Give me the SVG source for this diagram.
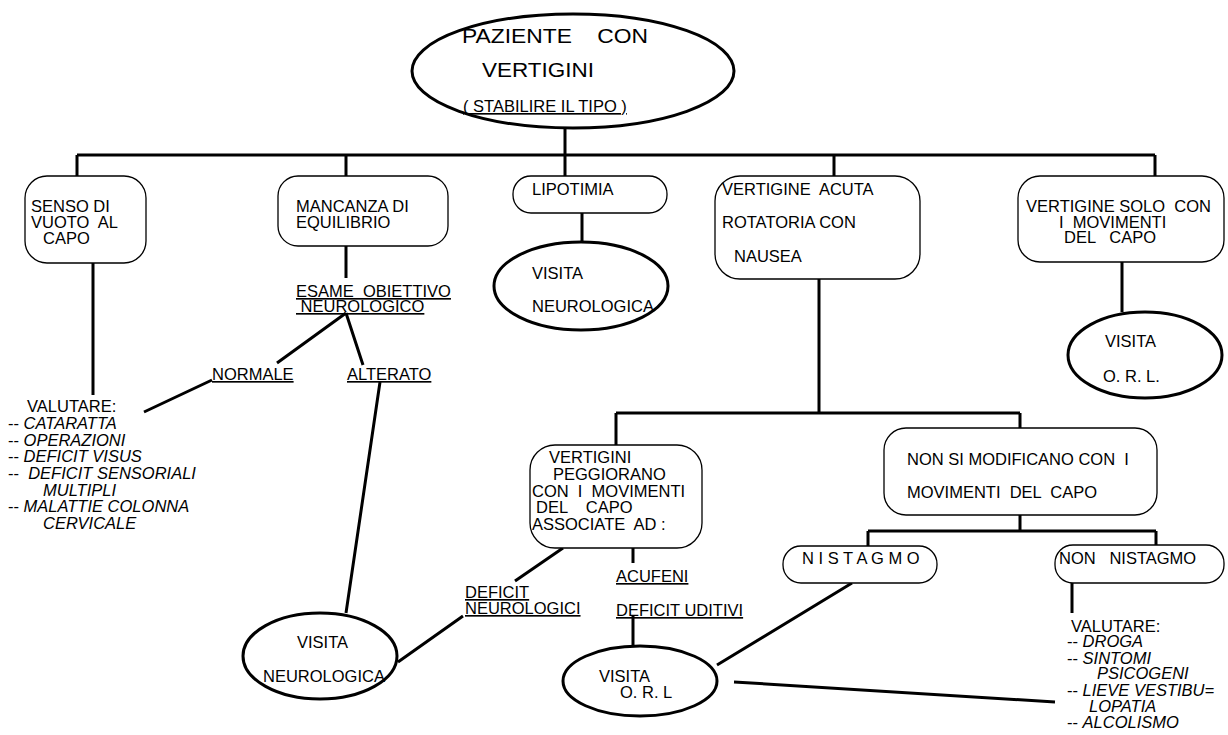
<svg xmlns="http://www.w3.org/2000/svg" width="1228" height="735" viewBox="0 0 1228 735" xml:space="preserve">
<style>
text{font-family:"Liberation Sans",Arial,sans-serif;font-size:16.5px;fill:#000;white-space:pre}
.u{text-decoration:underline}
.i{font-style:italic}
.t{font-size:21px}
.box{fill:#fff;stroke:#000;stroke-width:1.3}
.ell{fill:#fff;stroke:#000;stroke-width:3}
.c{fill:none;stroke:#000;stroke-width:3}
</style>
<rect width="1228" height="735" fill="#fff"/>
<g id="connectors" class="c">
<path d="M565 128V155M77 155H1155M77 155V176M346 155V176M565 155V176M834 155V176M1155 155V176"/>
<path d="M93 263V395M346 246V278M346 313L277 363M346 313L363 365M212 380L144 412M380 382L346 613"/>
<path d="M582 213V242M1122 262V312"/>
<path d="M819 279V413M616 413H1020M616 413V445M1020 413V428"/>
<path d="M633 548V563M563 548L515 581M463 616L398 662M633 616V646"/>
<path d="M1020 515V531M868 531H1156M868 531V546M1156 531V545"/>
<path d="M852 583L717 665M1072 583V613M734 682L1055 702"/>
</g>
<g id="n-paziente">
<ellipse class="ell" cx="573" cy="71" rx="161" ry="57"/>
<text class="t" x="462" y="43" textLength="186" lengthAdjust="spacingAndGlyphs">PAZIENTE    CON</text>
<text class="t" x="482" y="77" textLength="112" lengthAdjust="spacingAndGlyphs">VERTIGINI</text>
<text class="u" x="463" y="112">( STABILIRE IL TIPO )</text>
</g>
<g id="n-senso">
<rect class="box" x="25" y="176" width="121" height="87" rx="22"/>
<text x="31" y="212">SENSO DI</text>
<text x="31" y="228">VUOTO  AL</text>
<text x="43" y="244">CAPO</text>
</g>
<g id="n-mancanza">
<rect class="box" x="278" y="176" width="170" height="70" rx="20"/>
<text x="296" y="212">MANCANZA DI</text>
<text x="296" y="228">EQUILIBRIO</text>
</g>
<g id="n-esame">
<text class="u" x="296" y="297">ESAME  OBIETTIVO</text>
<text class="u" x="296" y="312"> NEUROLOGICO</text>
</g>
<g id="n-normale"><text class="u" x="212" y="380">NORMALE</text></g>
<g id="n-alterato"><text class="u" x="347" y="380">ALTERATO</text></g>
<g id="n-valutare1">
<text x="27" y="412">VALUTARE:</text>
<text x="8" y="429">-- <tspan class="i">CATARATTA</tspan></text>
<text x="8" y="446">-- <tspan class="i">OPERAZIONI</tspan></text>
<text x="8" y="462">-- <tspan class="i">DEFICIT VISUS</tspan></text>
<text x="8" y="479">--  <tspan class="i">DEFICIT SENSORIALI</tspan></text>
<text class="i" x="43" y="496">MULTIPLI</text>
<text x="8" y="512">-- <tspan class="i">MALATTIE COLONNA</tspan></text>
<text class="i" x="43" y="529">CERVICALE</text>
</g>
<g id="n-lipotimia">
<rect class="box" x="513" y="176" width="154" height="37" rx="18"/>
<text x="532" y="195">LIPOTIMIA</text>
</g>
<g id="n-visita-neuro1">
<ellipse class="ell" cx="581" cy="286" rx="87" ry="44"/>
<text x="532" y="279">VISITA</text>
<text x="532" y="312">NEUROLOGICA</text>
</g>
<g id="n-vertigine-acuta">
<rect class="box" x="715" y="176" width="205" height="103" rx="25"/>
<text x="722" y="195">VERTIGINE  ACUTA</text>
<text x="722" y="228">ROTATORIA CON</text>
<text x="734" y="262">NAUSEA</text>
</g>
<g id="n-vertigine-solo">
<rect class="box" x="1018" y="176" width="206" height="86" rx="22"/>
<text x="1026" y="212">VERTIGINE SOLO  CON</text>
<text x="1059" y="228">I  MOVIMENTI</text>
<text x="1064" y="243">DEL   CAPO</text>
</g>
<g id="n-visita-orl1">
<ellipse class="ell" cx="1145" cy="355" rx="77" ry="43"/>
<text x="1105" y="347">VISITA</text>
<text x="1103" y="382">O. R. L.</text>
</g>
<g id="n-peggiorano">
<rect class="box" x="530" y="445" width="172" height="103" rx="25"/>
<text x="549" y="463">VERTIGINI</text>
<text x="553" y="480">PEGGIORANO</text>
<text x="532" y="497">CON  I  MOVIMENTI</text>
<text x="536" y="513">DEL    CAPO</text>
<text x="532" y="530">ASSOCIATE  AD :</text>
</g>
<g id="n-acufeni"><text class="u" x="616" y="582">ACUFENI</text></g>
<g id="n-deficit-uditivi"><text class="u" x="616" y="616">DEFICIT UDITIVI</text></g>
<g id="n-deficit-neuro">
<text class="u" x="465" y="598">DEFICIT</text>
<text class="u" x="465" y="614">NEUROLOGICI</text>
</g>
<g id="n-visita-neuro2">
<ellipse class="ell" cx="320" cy="656" rx="77" ry="43"/>
<text x="297" y="648">VISITA</text>
<text x="263" y="682">NEUROLOGICA</text>
</g>
<g id="n-visita-orl2">
<ellipse class="ell" cx="640" cy="681" rx="77" ry="35"/>
<text x="599" y="682">VISITA</text>
<text x="620" y="698">O. R. L</text>
</g>
<g id="n-non-si">
<rect class="box" x="884" y="428" width="273" height="87" rx="22"/>
<text x="907" y="465">NON SI MODIFICANO CON  I</text>
<text x="907" y="498">MOVIMENTI  DEL  CAPO</text>
</g>
<g id="n-nistagmo">
<rect class="box" x="783" y="546" width="154" height="37" rx="18"/>
<text x="802" y="564">N I S T A G M O</text>
</g>
<g id="n-non-nistagmo">
<rect class="box" x="1055" y="545" width="169" height="38" rx="18"/>
<text x="1059" y="564">NON   NISTAGMO</text>
</g>
<g id="n-valutare2">
<text x="1071" y="632">VALUTARE:</text>
<text x="1067" y="647">-- <tspan class="i">DROGA</tspan></text>
<text x="1067" y="664">-- <tspan class="i">SINTOMI</tspan></text>
<text class="i" x="1097" y="679">PSICOGENI</text>
<text x="1067" y="696">-- <tspan class="i">LIEVE VESTIBU=</tspan></text>
<text class="i" x="1089" y="712">LOPATIA</text>
<text x="1067" y="728">-- <tspan class="i">ALCOLISMO</tspan></text>
</g>
</svg>
